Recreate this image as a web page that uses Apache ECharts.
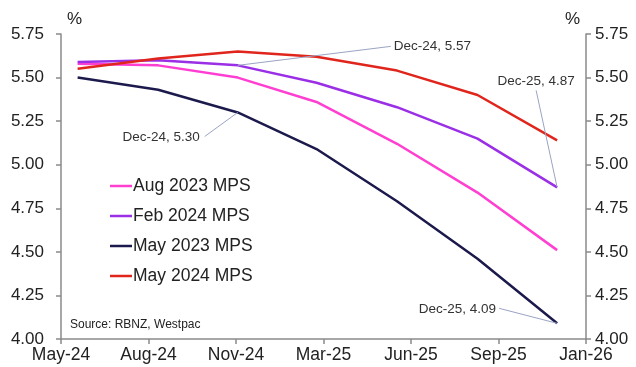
<!DOCTYPE html>
<html>
<head>
<meta charset="utf-8">
<script src="https://cdn.jsdelivr.net/npm/echarts@6/dist/echarts.min.js"></script>
<style>
  html, body { margin: 0; padding: 0; background: #fff; }
  #chart { width: 636px; height: 367px; }
</style>
</head>
<body>
<div id="chart"></div>
<script>
// Quarterly forecast points (first day of the quarter's last month)
const quarterDates = ['2024-06-01', '2024-09-01', '2024-12-01', '2025-03-01', '2025-06-01', '2025-09-01', '2025-12-01'];
const quarterNames = ['Jun-24', 'Sep-24', 'Dec-24', 'Mar-25', 'Jun-25', 'Sep-25', 'Dec-25'];

// Rate projections from each Monetary Policy Statement, %
const aug2023 = [5.58, 5.57, 5.50, 5.36, 5.12, 4.84, 4.51];
const feb2024 = [5.59, 5.60, 5.57, 5.47, 5.33, 5.15, 4.87];
const may2023 = [5.50, 5.43, 5.30, 5.09, 4.79, 4.46, 4.09];
const may2024 = [5.55, 5.61, 5.65, 5.62, 5.54, 5.40, 5.14];

const seriesNames = ['Aug 2023 MPS', 'Feb 2024 MPS', 'May 2023 MPS', 'May 2024 MPS'];

// Date axis: day offsets from the axis start, one tick per 100 days
const axisStart = '2024-05-13';
const xTickLabels = ['May-24', 'Aug-24', 'Nov-24', 'Mar-25', 'Jun-25', 'Sep-25', 'Jan-26'];
const yTickMin = 4.0, yTickMax = 5.75, yTickStep = 0.25;

const DAY = 86400000;
function dayOffset(iso) {
  const [a, b, c] = iso.split('-').map(Number);
  const [s1, s2, s3] = axisStart.split('-').map(Number);
  return (Date.UTC(a, b - 1, c) - Date.UTC(s1, s2 - 1, s3)) / DAY;
}

const colors = ['#ff3fd2', '#9a2fe6', '#1c1a4c', '#e0261c'];
const values = [aug2023, feb2024, may2023, may2024];

// Callouts: series / point, text offset + alignment, leader end offset (px from the point)
const callouts = [
  { s: 1, i: 2, tx: 156, ty: -19, align: 'left',   lx: 153, ly: -19 },
  { s: 1, i: 6, tx: -21, ty: -106, align: 'center', lx: -21, ly: -97 },
  { s: 2, i: 2, tx: -38, ty: 25,  align: 'right',  lx: -33, ly: 24 },
  { s: 2, i: 6, tx: -61, ty: -14, align: 'right',  lx: -58, ly: -15 }
];

const lineSeries = values.map((vals, si) => ({
  name: seriesNames[si],
  type: 'line',
  showSymbol: false,
  lineStyle: { width: 2.5, color: colors[si] },
  itemStyle: { color: colors[si] },
  emphasis: { disabled: true },
  z: 2 + si,
  data: vals.map((v, i) => [dayOffset(quarterDates[i]), v])
}));

const calloutSeries = {
  type: 'custom',
  z: 10,
  silent: true,
  clip: false,
  data: callouts.map((c, k) => [dayOffset(quarterDates[c.i]), values[c.s][c.i], k]),
  renderItem: (params, api) => {
    const c = callouts[api.value(2)];
    const v = api.value(1);
    const p = api.coord([api.value(0), v]);
    return {
      type: 'group',
      children: [
        {
          type: 'line',
          shape: { x1: p[0], y1: p[1], x2: p[0] + c.lx, y2: p[1] + c.ly },
          style: { stroke: '#9aa4c4', lineWidth: 1 }
        },
        {
          type: 'text',
          x: p[0] + c.tx,
          y: p[1] + c.ty,
          style: {
            text: quarterNames[c.i] + ', ' + v.toFixed(2),
            font: '13.5px "Liberation Sans"',
            fill: '#333',
            align: c.align,
            verticalAlign: 'middle'
          }
        }
      ]
    };
  }
};

const axisLineStyle = { color: '#8a8a8a', width: 1.5 };
const yAxisBase = {
  type: 'value',
  min: yTickMin,
  max: yTickMax,
  interval: yTickStep,
  axisLine: { show: true, lineStyle: axisLineStyle },
  axisTick: { show: true, length: 5, lineStyle: axisLineStyle },
  splitLine: { show: false },
  axisLabel: {
    fontFamily: 'Liberation Sans',
    fontSize: 17,
    color: '#222',
    formatter: v => v.toFixed(2)
  }
};

const chart = echarts.init(document.getElementById('chart'), null, { renderer: 'canvas' });
chart.setOption({
  animation: false,
  backgroundColor: '#fff',
  grid: { left: 61, right: 50, top: 34, bottom: 28 },
  xAxis: {
    type: 'value',
    min: 0,
    max: 600,
    interval: 100,
    axisLine: { show: true, lineStyle: axisLineStyle },
    axisTick: { show: true, length: 5, lineStyle: axisLineStyle },
    splitLine: { show: false },
    axisLabel: {
      fontFamily: 'Liberation Sans',
      fontSize: 17.5,
      color: '#222',
      margin: 7,
      formatter: v => xTickLabels[Math.round(v / 100)]
    }
  },
  yAxis: [
    Object.assign({}, yAxisBase, { position: 'left', axisLabel: Object.assign({}, yAxisBase.axisLabel, { margin: 17 }) }),
    Object.assign({}, yAxisBase, { position: 'right', axisLabel: Object.assign({}, yAxisBase.axisLabel, { margin: 9 }) })
  ],
  legend: {
    orient: 'vertical',
    left: 105,
    top: 171,
    icon: 'rect',
    itemWidth: 22,
    itemHeight: 2.5,
    itemGap: 10,
    selectedMode: false,
    textStyle: {
      fontFamily: 'Liberation Sans',
      fontSize: 17.5,
      color: '#222',
      lineHeight: 20,
      padding: [0, 0, 0, -4]
    },
    data: seriesNames
  },
  graphic: [
    { type: 'text', left: 67, top: 11, style: { text: '%', font: '17px "Liberation Sans"', fill: '#222' } },
    { type: 'text', left: 565, top: 11, style: { text: '%', font: '17px "Liberation Sans"', fill: '#222' } },
    { type: 'text', left: 70, top: 319, style: { text: 'Source: RBNZ, Westpac', font: '12px "Liberation Sans"', fill: '#222' } }
  ],
  series: lineSeries.concat([calloutSeries])
});
</script>
</body>
</html>
